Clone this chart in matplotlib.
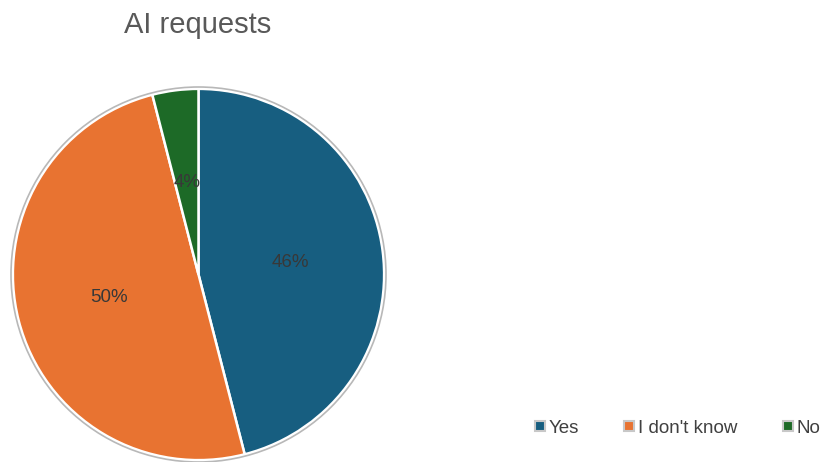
import matplotlib
matplotlib.use("Agg")
import matplotlib.pyplot as plt
from matplotlib.lines import Line2D
from matplotlib.patches import Circle

plt.rcParams['font.family'] = ['Liberation Sans', 'DejaVu Sans']

# Survey answers
categories = ["Yes", "I don't know", "No"]
shares = [46, 50, 4]
colors = ["#175E80", "#E87331", "#1D6A27"]

W, H = 821, 462
fig = plt.figure(figsize=(W / 100, H / 100), dpi=100)

# Pie area: centre (198.5, 274.5) px, radius 187.5 px
cx, cy, r = 198.5, 274.5, 187.5
ax = fig.add_axes([(cx - r) / W, (H - cy - r) / H, 2 * r / W, 2 * r / H])

wedges, texts, autotexts = ax.pie(
    shares, colors=colors, startangle=90, counterclock=False,
    autopct=lambda p: f"{p:.0f}%", pctdistance=0.5, radius=0.99,
    wedgeprops=dict(edgecolor="white", linewidth=1.8),
    textprops=dict(color="#383838", fontsize=13.5), frame=False,
)
for w in wedges:
    w.set_clip_on(False)
ax.set_xlim(-1, 1)
ax.set_ylim(-1, 1)
ax.set_aspect("auto")
ax.axis("off")

# Thin grey rim around the pie
ax.add_patch(Circle((0, 0), 1.0, fill=False, edgecolor="#B8B8B8",
                    linewidth=1.2, clip_on=False))

fig.text(198 / W, 1 - 25 / H, "AI requests", ha="center", va="center",
         fontsize=21, color="#595959")

handles = [Line2D([], [], linestyle="none", marker="s", markersize=7.5,
                  markerfacecolor=c, markeredgecolor="#C8C8C8",
                  markeredgewidth=1.5) for c in colors]
fig.legend(handles, categories, loc="center", ncol=3,
           bbox_to_anchor=(677 / W, 1 - 428 / H), frameon=False,
           handlelength=0.6, handletextpad=0.15, columnspacing=2.4,
           fontsize=13.5, labelcolor="#404040")

fig.savefig("out.png", dpi=100)
